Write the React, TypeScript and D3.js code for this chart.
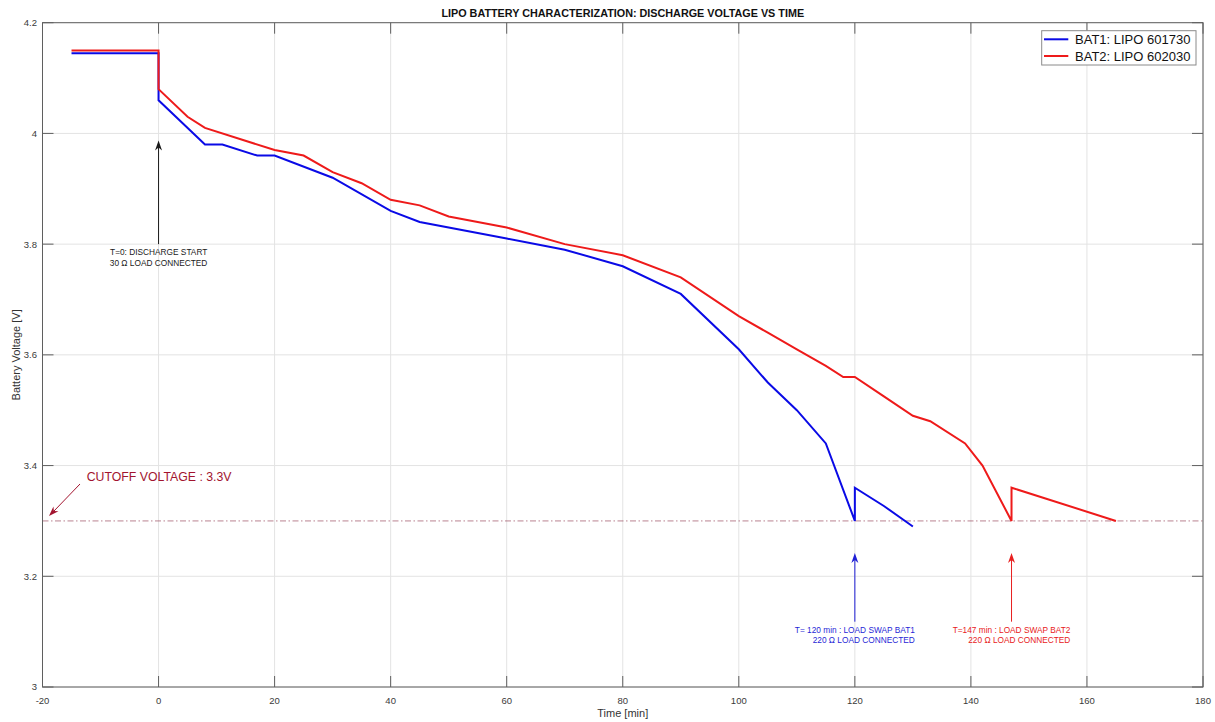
import React, { useEffect, useRef } from 'react';
import * as d3 from 'd3';

// ---- Data ----
const bat1Time = [-15, 0, 0, 8, 11, 17, 20, 30, 40, 45, 60, 70, 80, 90, 100, 105, 110, 115, 120, 120, 125, 130];
const bat1Volt = [4.145, 4.145, 4.06, 3.98, 3.98, 3.96, 3.96, 3.92, 3.86, 3.84, 3.81, 3.79, 3.76, 3.71, 3.61, 3.55, 3.5, 3.44, 3.3, 3.36, 3.327, 3.29];

const bat2Time = [-15, 0, 0, 5, 8, 20, 25, 30, 35, 40, 45, 50, 60, 70, 80, 90, 100, 105, 110, 115, 118, 120, 125, 130, 133, 139, 142, 147, 147, 165];
const bat2Volt = [4.15, 4.15, 4.08, 4.03, 4.01, 3.97, 3.96, 3.93, 3.91, 3.88, 3.87, 3.85, 3.83, 3.8, 3.78, 3.74, 3.67, 3.64, 3.61, 3.58, 3.56, 3.56, 3.525, 3.49, 3.48, 3.44, 3.4, 3.3, 3.36, 3.3];

const seriesNames = ['BAT1: LIPO 601730', 'BAT2: LIPO 602030'];
const seriesColors = ['#0a0ae6', '#ee1a1a'];

const xTicks = [-20, 0, 20, 40, 60, 80, 100, 120, 140, 160, 180];
const yTicks = [3, 3.2, 3.4, 3.6, 3.8, 4, 4.2];
const xDomain = [-20, 180];
const yDomain = [3, 4.2];

const cutoffVoltage = 3.3;
const cutoffLabel = 'CUTOFF VOLTAGE : 3.3V';

const annotationTimes = [0, 120, 147];
const annotationTail = [3.8, 3.118, 3.118];
const annotationHead = [3.987, 3.242, 3.242];
const annotationLines = [
  ['T=0: DISCHARGE START', '30 \u03A9 LOAD CONNECTED'],
  ['T= 120 min : LOAD SWAP BAT1', '220 \u03A9 LOAD CONNECTED'],
  ['T=147 min : LOAD SWAP BAT2', '220 \u03A9 LOAD CONNECTED'],
];
const annotationColors = ['#1a1a1a', '#1f1fd6', '#e82020'];

const title = 'LIPO BATTERY CHARACTERIZATION: DISCHARGE VOLTAGE VS TIME';
const xLabel = 'Time [min]';
const yLabel = 'Battery Voltage [V]';

const W = 1215;
const H = 722;
const FONT = '"Liberation Sans", Arial, Helvetica, sans-serif';

function arrowHead(g: any, x1: number, y1: number, x2: number, y2: number, color: string, len = 10, half = 3.5) {
  const dx = x2 - x1, dy = y2 - y1;
  const d = Math.hypot(dx, dy);
  const ux = dx / d, uy = dy / d;
  const px = -uy, py = ux;
  const bx = x2 - ux * len, by = y2 - uy * len;
  const nx = x2 - ux * len * 0.7, ny = y2 - uy * len * 0.7;
  const pts = [
    [x2, y2],
    [bx + px * half, by + py * half],
    [nx, ny],
    [bx - px * half, by - py * half],
  ];
  g.append('polygon').attr('points', pts.map(p => p.join(',')).join(' ')).attr('fill', color);
}

export default function App() {
  const ref = useRef<SVGSVGElement>(null);

  useEffect(() => {
    const svg = d3.select(ref.current);
    svg.selectAll('*').remove();

    const left = 42.5, right = 1203, top = 22.7, bottom = 687;
    const x = d3.scaleLinear().domain(xDomain).range([left, right]);
    const y = d3.scaleLinear().domain(yDomain).range([bottom, top]);

    svg.append('rect').attr('width', W).attr('height', H).attr('fill', '#ffffff');

    // grid
    const grid = svg.append('g');
    xTicks.forEach(t => {
      grid.append('line').attr('x1', x(t)).attr('x2', x(t)).attr('y1', top).attr('y2', bottom)
        .attr('stroke', '#e3e3e3').attr('stroke-width', 1);
    });
    yTicks.forEach(t => {
      grid.append('line').attr('x1', left).attr('x2', right).attr('y1', y(t)).attr('y2', y(t))
        .attr('stroke', '#e3e3e3').attr('stroke-width', 1);
    });

    // cutoff line
    svg.append('line').attr('x1', left).attr('x2', right).attr('y1', y(cutoffVoltage)).attr('y2', y(cutoffVoltage))
      .attr('stroke', '#8f3a50').attr('stroke-opacity', 0.7).attr('stroke-width', 0.9)
      .attr('stroke-dasharray', '6 2.5 1.5 2.5');

    // series
    const line = d3.line<[number, number]>().x(d => x(d[0])).y(d => y(d[1]));
    const series: [number, number][][] = [
      bat1Time.map((t, i) => [t, bat1Volt[i]]),
      bat2Time.map((t, i) => [t, bat2Volt[i]]),
    ];
    series.forEach((s, i) => {
      svg.append('path').attr('d', line(s) as string).attr('fill', 'none')
        .attr('stroke', seriesColors[i]).attr('stroke-width', 2).attr('stroke-linejoin', 'miter');
    });

    // axes box
    const axisColor = '#5f5f5f';
    svg.append('rect').attr('x', left).attr('y', top).attr('width', right - left).attr('height', bottom - top)
      .attr('fill', 'none').attr('stroke', axisColor).attr('stroke-width', 1);
    const tl = 11;
    xTicks.forEach(t => {
      svg.append('line').attr('x1', x(t)).attr('x2', x(t)).attr('y1', bottom).attr('y2', bottom - tl).attr('stroke', axisColor);
      svg.append('line').attr('x1', x(t)).attr('x2', x(t)).attr('y1', top).attr('y2', top + tl).attr('stroke', axisColor);
      svg.append('text').attr('x', x(t)).attr('y', bottom + 17).attr('text-anchor', 'middle')
        .attr('font-family', FONT).attr('font-size', 9.5).attr('fill', '#3a3a3a').text(String(t));
    });
    yTicks.forEach(t => {
      svg.append('line').attr('x1', left).attr('x2', left + tl).attr('y1', y(t)).attr('y2', y(t)).attr('stroke', axisColor);
      svg.append('line').attr('x1', right).attr('x2', right - tl).attr('y1', y(t)).attr('y2', y(t)).attr('stroke', axisColor);
      svg.append('text').attr('x', left - 5.5).attr('y', y(t) + 3.4).attr('text-anchor', 'end')
        .attr('font-family', FONT).attr('font-size', 9.5).attr('fill', '#3a3a3a').text(String(t));
    });

    // axis labels + title
    svg.append('text').attr('x', (left + right) / 2).attr('y', 717).attr('text-anchor', 'middle')
      .attr('font-family', FONT).attr('font-size', 11).attr('fill', '#333').text(xLabel);
    svg.append('text').attr('transform', `translate(20,${(top + bottom) / 2}) rotate(-90)`).attr('text-anchor', 'middle')
      .attr('font-family', FONT).attr('font-size', 11).attr('fill', '#333').text(yLabel);
    svg.append('text').attr('x', (left + right) / 2).attr('y', 17).attr('text-anchor', 'middle')
      .attr('font-family', FONT).attr('font-size', 10.8).attr('font-weight', 'bold').attr('fill', '#111').text(title);

    // cutoff annotation
    const cg = svg.append('g');
    const cx1 = 80, cy1 = 484, cx2 = 49, cy2 = 516;
    cg.append('line').attr('x1', cx1).attr('y1', cy1).attr('x2', cx2 + 5).attr('y2', cy2 - 5)
      .attr('stroke', '#A2142F').attr('stroke-width', 1);
    arrowHead(cg, cx1, cy1, cx2, cy2, '#A2142F', 10, 3.5);
    cg.append('text').attr('x', 86.7).attr('y', 480.7).attr('font-family', FONT).attr('font-size', 12.3)
      .attr('fill', '#A2142F').text(cutoffLabel);

    // text arrows
    annotationTimes.forEach((t, i) => {
      const g = svg.append('g');
      const ax = x(t);
      const yt = y(annotationTail[i]);
      const yh = y(annotationHead[i]);
      const col = annotationColors[i];
      g.append('line').attr('x1', ax).attr('x2', ax).attr('y1', yt).attr('y2', yh + 6)
        .attr('stroke', col).attr('stroke-width', 1);
      arrowHead(g, ax, yt, ax, yh, col, 10, 3.5);
      const lines = annotationLines[i];
      const texts = lines.map((ln, k) =>
        g.append('text').attr('y', yt + 11 + k * 10.5).attr('text-anchor', 'end')
          .attr('font-family', FONT).attr('font-size', 8.3).attr('fill', col).text(ln)
      );
      const widths = texts.map(tx => (tx.node() as SVGTextElement).getComputedTextLength());
      const maxW = Math.max(...widths);
      texts.forEach(tx => tx.attr('x', ax + maxW / 2));
    });

    // legend
    const lg = svg.append('g');
    const lx = 1041.7, ly = 30.7, lw = 154.3, lh = 34.3;
    lg.append('rect').attr('x', lx).attr('y', ly).attr('width', lw).attr('height', lh)
      .attr('fill', '#fff').attr('stroke', '#8a8a8a').attr('stroke-width', 1);
    seriesNames.forEach((name, i) => {
      const ry = ly + 8.6 + i * 16.7;
      lg.append('line').attr('x1', 1044).attr('x2', 1068.3).attr('y1', ry).attr('y2', ry)
        .attr('stroke', seriesColors[i]).attr('stroke-width', 2);
      lg.append('text').attr('x', 1075).attr('y', ry + 4.6).attr('font-family', FONT).attr('font-size', 13)
        .attr('fill', '#111').text(name);
    });
  }, []);

  return (
    <svg ref={ref} width={W} height={H} style={{ position: 'absolute', left: 0, top: 0, display: 'block' }} />
  );
}
